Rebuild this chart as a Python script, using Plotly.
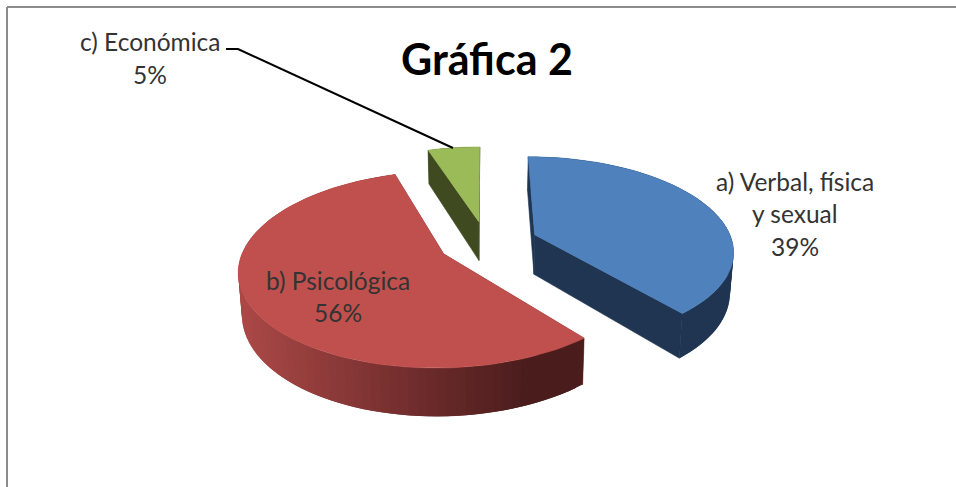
import math
import plotly.graph_objects as go

categories = ["a) Verbal, física<br>y sexual", "b) Psicológica", "c) Económica"]
values = [39, 56, 5]
explode = [0.265, 0.24, 0.24]
top_colors = ["#4f81bd", "#c0504d", "#9bbb59"]
side_colors = ["#1f3552", "#7a2f2e", "#3f4a20"]
title_text = "Gráfica 2"

# Projection of the pie's unit disc on the page
CX, CY, RX, RY, PERSP, DEPTH = 486, 243, 198, 92.6, 0.1556, 40
FONT = "Lato, Carlito, Calibri, sans-serif"
TEXT = "#333333"


def project(u, v, low=False):
    s = 1 / (1 - PERSP * v)
    if low:
        return CX + RX * u * s * 0.985, CY + (RY * v + DEPTH) * s
    return CX + RX * u * s, CY + RY * v * s


def mix(a, b, t):
    return tuple(round(a[i] + (b[i] - a[i]) * t) for i in range(3))


def poly(fig, pts, color, edge=0.6):
    xs = [p[0] for p in pts] + [pts[0][0]]
    ys = [p[1] for p in pts] + [pts[0][1]]
    fig.add_trace(go.Scatter(x=xs, y=ys, mode="lines", fill="toself", fillcolor=color,
                             line=dict(color=color, width=edge), hoverinfo="skip", showlegend=False))


fig = go.Figure()
total = sum(values)
start = 0.0
slices = []
for i, val in enumerate(values):
    sweep = 2 * math.pi * val / total
    slices.append((i, start, start + sweep))
    start += sweep

# back to front: economic, verbal, psychological
for i, a0, a1 in (slices[2], slices[0], slices[1]):
    mid = (a0 + a1) / 2
    ou, ov = explode[i] * math.sin(mid), -explode[i] * math.cos(mid)
    n = max(6, int((a1 - a0) / 0.04))
    angles = [a0 + (a1 - a0) * k / n for k in range(n + 1)]
    rim = [(ou + math.sin(a), ov - math.cos(a)) for a in angles]
    side = side_colors[i]
    # radial walls
    poly(fig, [project(ou, ov), project(*rim[0]), project(*rim[0], True), project(ou, ov, True)], side)
    poly(fig, [project(ou, ov), project(*rim[-1]), project(*rim[-1], True), project(ou, ov, True)], side)
    # outer wall, each band overlapping the next one so no seams appear
    for k in range(n):
        e = min(n, k + 2)
        if i == 1:
            x_pos = project(*rim[k])[0]
            f = min(1, max(0, (x_pos - 245) / 285))
            col = "rgb(%d,%d,%d)" % mix((170, 72, 70), (75, 28, 28), f)
        else:
            col = side
        poly(fig, [project(*rim[k]), project(*rim[e]),
                   project(*rim[e], True), project(*rim[k], True)], col, 0)
    # top face
    poly(fig, [project(ou, ov)] + [project(*p) for p in rim], top_colors[i])

fig.add_trace(go.Scatter(x=[226, 238, 453], y=[49, 49, 148], mode="lines",
                         line=dict(color="#000000", width=2), hoverinfo="skip", showlegend=False))

shapes = [
    dict(type="line", x0=7, x1=956, y0=7, y1=7, line=dict(color="#8c8c8c", width=2)),
    dict(type="line", x0=7, x1=7, y0=7, y1=487, line=dict(color="#8c8c8c", width=2)),
]


def note(x, y, text, size=24.5, bold=False, color=TEXT):
    return dict(x=x, y=y, text=f"<b>{text}</b>" if bold else text, showarrow=False, xanchor="center",
                yanchor="middle", font=dict(family=FONT, size=size, color=color))


annotations = [
    note(487, 58, title_text, 43, True, "#000000"),
    note(150, 41, categories[2]),
    note(150, 74, f"{values[2]}%"),
    note(795, 181, categories[0].split("<br>")[0]),
    note(795, 213, categories[0].split("<br>")[1]),
    note(795, 246, f"{values[0]}%"),
    note(338, 280, categories[1]),
    note(338, 312, f"{values[1]}%"),
]

fig.update_layout(
    width=956, height=487, margin=dict(l=0, r=0, t=0, b=0),
    paper_bgcolor="white", plot_bgcolor="white", showlegend=False,
    xaxis=dict(range=[0, 956], visible=False, fixedrange=True),
    yaxis=dict(range=[487, 0], visible=False, fixedrange=True),
    shapes=shapes, annotations=annotations,
)
fig.write_html("out.html", config={"displayModeBar": False},
               post_script="document.body.style.margin='0';document.body.style.overflow='hidden';")
